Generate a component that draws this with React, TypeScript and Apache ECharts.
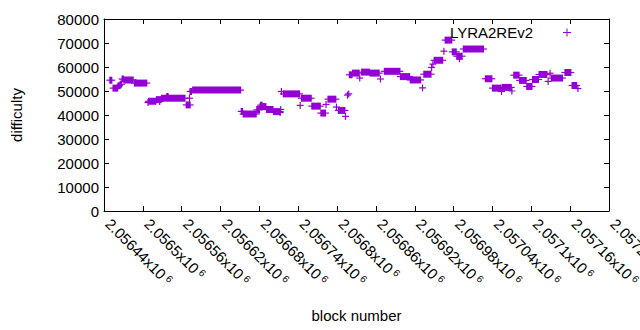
import React, { useEffect, useRef } from "react";
import * as echarts from "echarts";

// Runs of constant difficulty: first block, last block, difficulty
const runStart = [
  2056449, 2056454, 2056462, 2056465, 2056468, 2056471, 2056487, 2056508, 2056509, 2056521,
  2056526, 2056529, 2056537, 2056567, 2056572, 2056573, 2056577, 2056652, 2056655, 2056676,
  2056681, 2056682, 2056691, 2056702, 2056712, 2056713, 2056714, 2056717, 2056743, 2056745,
  2056761, 2056775, 2056783, 2056786, 2056799, 2056802, 2056813, 2056816, 2056818, 2056819,
  2056824, 2056835, 2056838, 2056851, 2056867, 2056873, 2056898, 2056913, 2056932, 2056934,
  2056946, 2056948, 2056950, 2056965, 2056967, 2056978, 2056985, 2056989, 2056995, 2057029,
  2057040, 2057054, 2057055, 2057070, 2057073, 2057082, 2057093, 2057102, 2057112, 2057126,
  2057129, 2057131, 2057152, 2057163, 2057172,
];
const runEnd = [
  2056452, 2056461, 2056464, 2056467, 2056470, 2056485, 2056506, 2056508, 2056520, 2056528,
  2056526, 2056565, 2056539, 2056573, 2056572, 2056575, 2056651, 2056654, 2056675, 2056680,
  2056690, 2056684, 2056701, 2056712, 2056712, 2056713, 2056714, 2056742, 2056743, 2056760,
  2056774, 2056782, 2056783, 2056798, 2056799, 2056812, 2056813, 2056816, 2056818, 2056823,
  2056834, 2056835, 2056850, 2056865, 2056867, 2056897, 2056912, 2056929, 2056932, 2056945,
  2056946, 2056948, 2056963, 2056965, 2056977, 2056984, 2056993, 2056989, 2057026, 2057039,
  2057053, 2057054, 2057069, 2057070, 2057081, 2057092, 2057101, 2057111, 2057124, 2057126,
  2057129, 2057148, 2057161, 2057170, 2057172,
];
const difficulty = [
  54500, 51200, 52200, 52800, 55000, 54600, 53300, 45200, 45700, 46400,
  45600, 47000, 47700, 44200, 47000, 49800, 50400, 41500, 40400, 42150,
  43500, 44100, 42300, 41400, 41000, 42300, 49800, 48800, 44000, 47000,
  43700, 40800, 44400, 46600, 43300, 41900, 39400, 48300, 48800, 56750,
  57460, 55400, 57870, 57460, 55000, 58200, 56000, 54600, 51300, 57000,
  59800, 61200, 62800, 66600, 71200, 66300, 64500, 63400, 67500, 55100,
  51200, 49800, 51500, 50000, 56600, 54400, 51900, 54800, 56900, 54000,
  57400, 55400, 57700, 52300, 51000,
];

const xMin = 2056440;
const xMax = 2057220;
const xStep = 60;
const yMin = 0;
const yMax = 80000;
const yStep = 10000;
const seriesName = "LYRA2REv2";
const xTitle = "block number";
const yTitle = "difficulty";

export default function App() {
  const ref = useRef<HTMLDivElement>(null);
  useEffect(() => {
    if (!ref.current) return;
    const chart = echarts.init(ref.current, null, { renderer: "svg" });
    const data = runStart.map((s, i) => [s, runEnd[i], difficulty[i]]);
    const font = "'Liberation Sans', Arial, sans-serif";
    const color = "#9400d3";
    const arm = 3.5;
    const lw = 1.2;
    const black = "#000";
    const axisCommon = {
      axisLine: { show: true, onZero: false, lineStyle: { color: black, width: 1 } },
      axisTick: { show: true, inside: true, length: 5, lineStyle: { color: black, width: 1 } },
      splitLine: { show: false },
    };
    chart.setOption({
      animation: false,
      textStyle: { fontFamily: font },
      grid: { left: 104, top: 19, width: 505, height: 192, containLabel: false, outerBoundsMode: "none" },
      legend: {
        data: [{ name: seriesName, icon: "path://M0,3.5L8,3.5L8,4.5L0,4.5Z M3.5,0L4.5,0L4.5,8L3.5,8Z" }],
        right: 69,
        top: 25,
        padding: 0,
        align: "right",
        itemWidth: 8,
        itemHeight: 8,
        selectedMode: false,
        formatter: (name: string) => `{a|${name}}`,
        textStyle: {
          fontSize: 15,
          color: black,
          fontFamily: font,
          rich: { a: { fontSize: 15, color: black, fontFamily: font, padding: [0, 25, 0, 0] } },
        },
      },
      xAxis: [
        {
          type: "value",
          position: "bottom",
          min: xMin,
          max: xMax,
          interval: xStep,
          ...axisCommon,
          axisLabel: {
            rotate: -45,
            margin: 6,
            padding: [0, 0, 0, 6],
            fontSize: 15,
            color: black,
            fontFamily: font,
            showMaxLabel: true,
            showMinLabel: true,
            hideOverlap: false,
            formatter: (v: number) => `${parseFloat((v / 1e6).toFixed(6))}x10{s|6}`,
            rich: { s: { fontSize: 10, color: black, fontFamily: font, verticalAlign: "top", padding: [0, 0, 0, 3] } },
          },
          name: xTitle,
          nameLocation: "middle",
          nameGap: 97,
          nameTextStyle: { fontSize: 15, color: black, fontFamily: font },
        },
        {
          type: "value",
          position: "top",
          min: xMin,
          max: xMax,
          interval: xStep,
          ...axisCommon,
          axisLabel: { show: false },
        },
      ],
      yAxis: [
        {
          type: "value",
          position: "left",
          min: yMin,
          max: yMax,
          interval: yStep,
          ...axisCommon,
          axisLabel: { fontSize: 15, color: black, fontFamily: font, margin: 5, formatter: (v: number) => String(v) },
          name: yTitle,
          nameLocation: "middle",
          nameRotate: 90,
          nameGap: 80,
          nameTextStyle: { fontSize: 15, color: black, fontFamily: font },
        },
        {
          type: "value",
          position: "right",
          min: yMin,
          max: yMax,
          interval: yStep,
          ...axisCommon,
          axisLabel: { show: false },
        },
      ],
      series: [
        {
          type: "custom",
          name: seriesName,
          xAxisIndex: 0,
          yAxisIndex: 0,
          itemStyle: { color },
          encode: { x: [0, 1], y: 2 },
          data,
          renderItem: (params: any, api: any) => {
            const a = api.coord([api.value(0), api.value(2)]);
            const b = api.coord([api.value(1), api.value(2)]);
            return {
              type: "group",
              children: [
                {
                  type: "rect",
                  shape: { x: a[0] - lw / 2, y: a[1] - arm, width: b[0] - a[0] + lw, height: arm * 2 },
                  style: { fill: color },
                },
                {
                  type: "rect",
                  shape: { x: a[0] - arm, y: a[1] - lw / 2, width: b[0] - a[0] + arm * 2, height: lw },
                  style: { fill: color },
                },
              ],
            };
          },
        },
      ],
    });
    return () => chart.dispose();
  }, []);
  return (
    <div
      ref={ref}
      style={{ position: "fixed", left: 0, top: 0, width: 640, height: 330, background: "#fff" }}
    />
  );
}
